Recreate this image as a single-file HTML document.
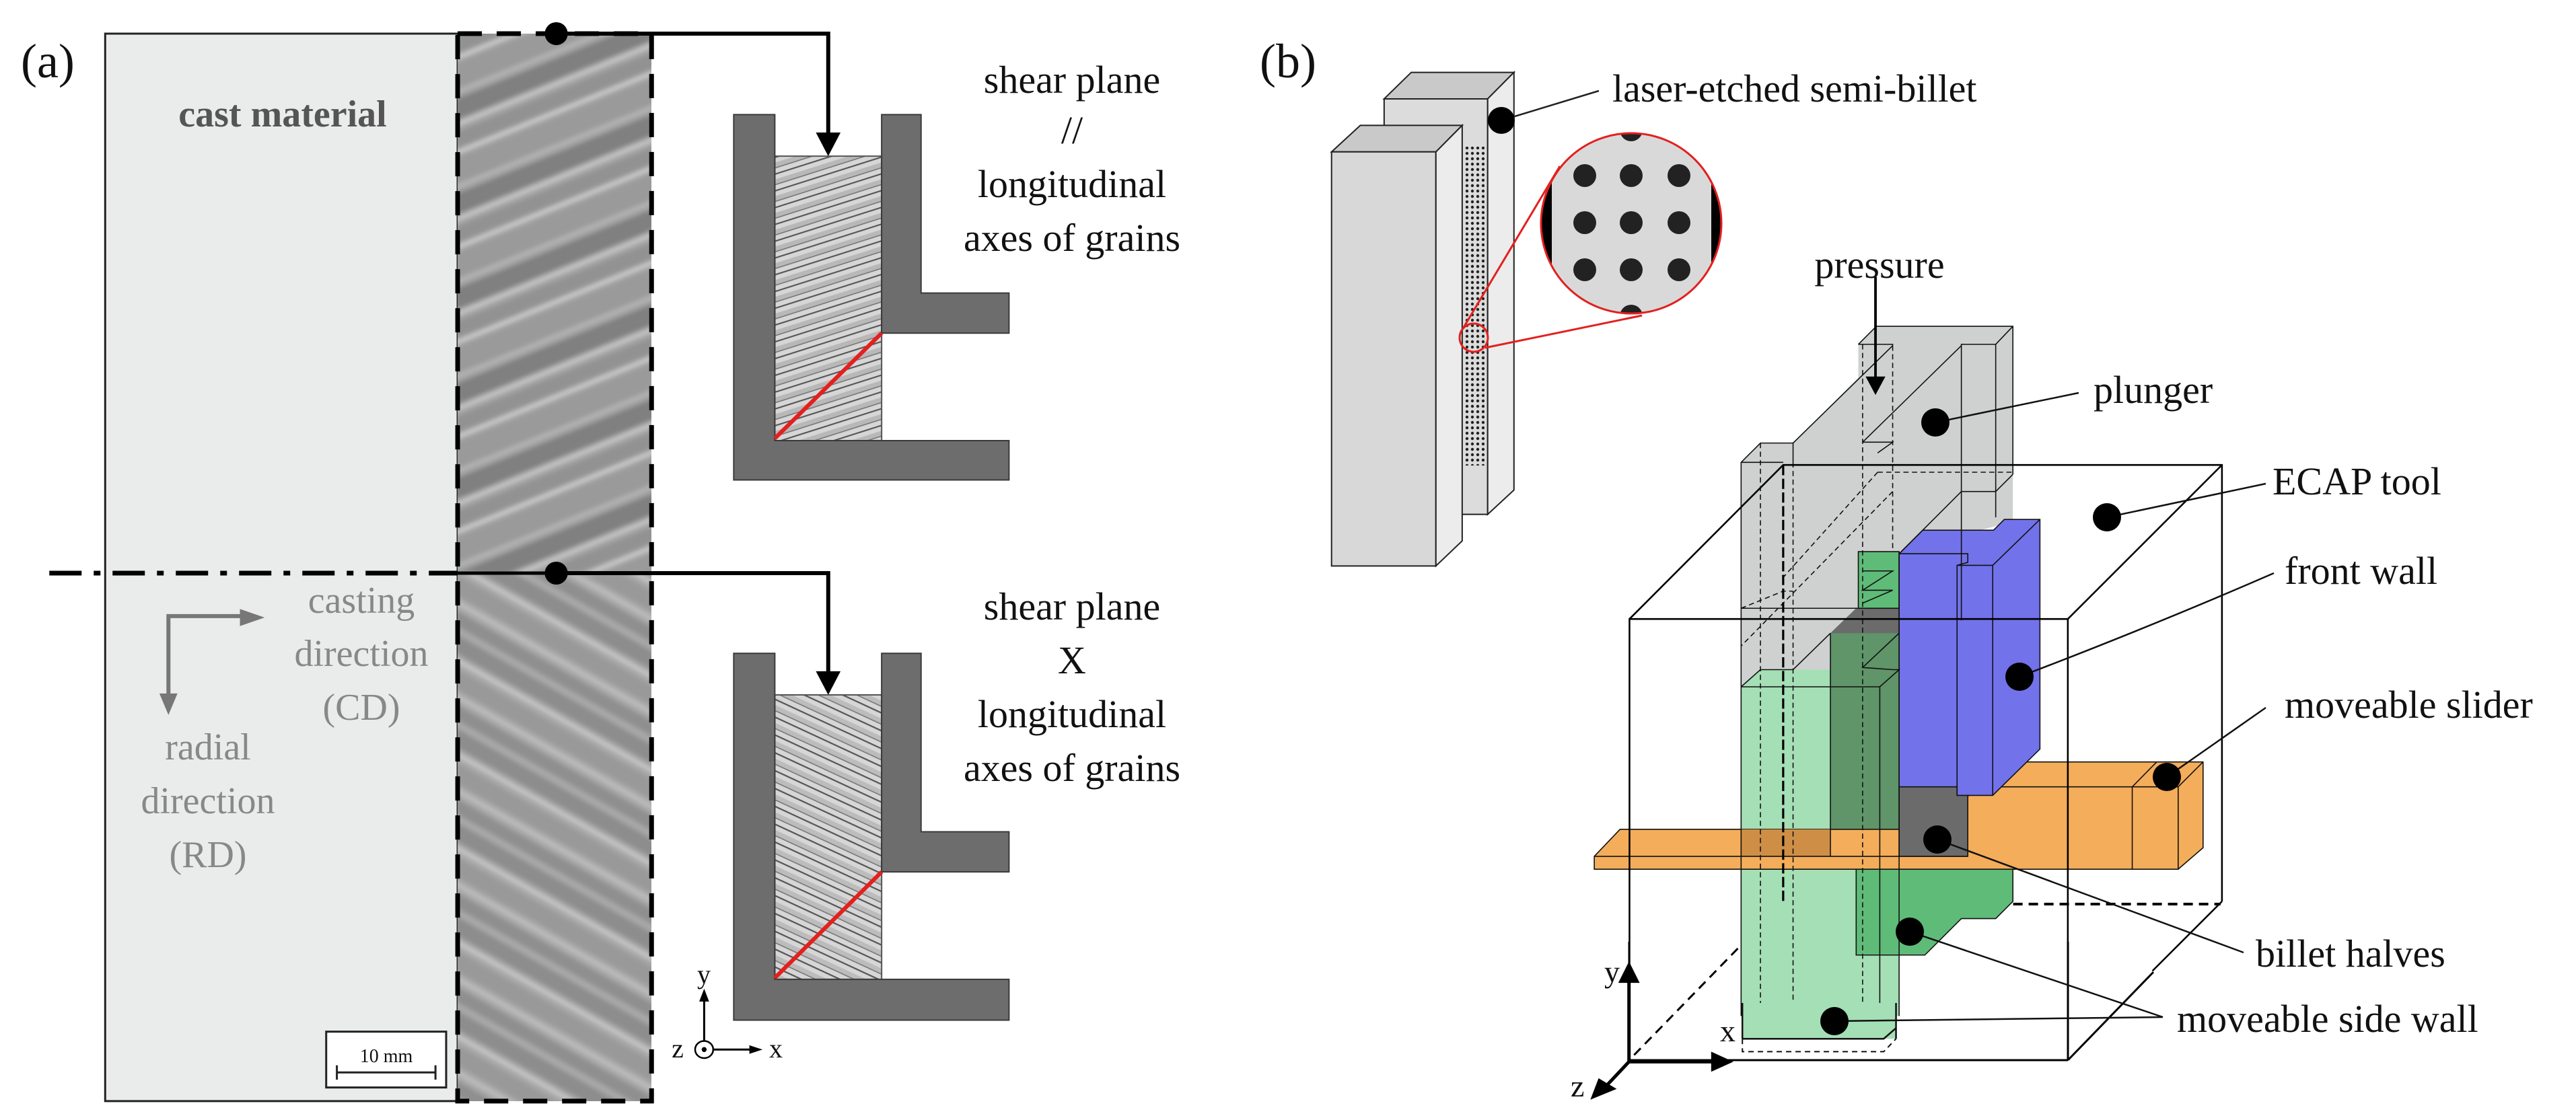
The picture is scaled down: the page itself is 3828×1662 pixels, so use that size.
<!DOCTYPE html>
<html><head><meta charset="utf-8"><style>
html,body{margin:0;padding:0;background:#fff}
svg{display:block}
svg text{font-family:"Liberation Serif","DejaVu Serif",serif}
</style></head><body>
<svg width="3828" height="1662" viewBox="0 0 3828 1662" xmlns="http://www.w3.org/2000/svg" font-family="Liberation Serif, DejaVu Serif, serif">
<defs>
<filter id="bl"><feGaussianBlur stdDeviation="3"/></filter>
<pattern id="stTop" width="400" height="120" patternUnits="userSpaceOnUse" patternTransform="rotate(-25)">
<rect width="400" height="120" fill="#a3a3a3"/>
<rect y="0" width="400" height="26" fill="#808080"/>
<rect y="30" width="400" height="5" fill="#c9c9c9"/>
<rect y="42" width="400" height="20" fill="#929292"/>
<rect y="66" width="400" height="4" fill="#d5d5d5"/>
<rect y="76" width="400" height="30" fill="#9a9a9a"/>
<rect y="110" width="400" height="3" fill="#bdbdbd"/>
</pattern>
<pattern id="stBot" width="400" height="110" patternUnits="userSpaceOnUse" patternTransform="rotate(33)">
<rect width="400" height="110" fill="#a8a8a8"/>
<rect y="0" width="400" height="22" fill="#8d8d8d"/>
<rect y="28" width="400" height="4" fill="#cfcfcf"/>
<rect y="40" width="400" height="24" fill="#999"/>
<rect y="70" width="400" height="5" fill="#c0c0c0"/>
<rect y="82" width="400" height="18" fill="#8f8f8f"/>
</pattern>
<pattern id="gr1" width="60" height="22" patternUnits="userSpaceOnUse" patternTransform="rotate(-20)">
<rect width="60" height="22" fill="#d6d6d6"/>
<rect y="8" width="60" height="7" fill="#b8b8b8"/>
<line x1="0" y1="1" x2="60" y2="1" stroke="#555" stroke-width="2"/>
<line x1="0" y1="15" x2="60" y2="15" stroke="#777" stroke-width="1.5"/>
</pattern>
<pattern id="gr2" width="60" height="22" patternUnits="userSpaceOnUse" patternTransform="rotate(28)">
<rect width="60" height="22" fill="#d6d6d6"/>
<rect y="8" width="60" height="7" fill="#bcbcbc"/>
<line x1="0" y1="1" x2="60" y2="1" stroke="#555" stroke-width="2"/>
<line x1="0" y1="15" x2="60" y2="15" stroke="#777" stroke-width="1.5"/>
</pattern>
<pattern id="dots" width="8" height="8" patternUnits="userSpaceOnUse"><circle cx="4" cy="4" r="2.2" fill="#222"/></pattern>
<clipPath id="stripc"><rect x="680" y="50" width="288" height="1587"/></clipPath>
</defs>

<!-- ===== LEFT PANEL (zoom1 coords) ===== -->
<g transform="scale(1.221,1.065)">
<rect x="128" y="47" width="429" height="1490" fill="#eaeceb" stroke="#222" stroke-width="3" vector-effect="non-scaling-stroke"/>
</g>
<g clip-path="url(#stripc)">
<g transform="scale(1.221,1.065)" filter="url(#bl)">
<rect x="540" y="30" width="270" height="770" fill="url(#stTop)"/>
<rect x="540" y="800" width="270" height="760" fill="url(#stBot)"/>
</g>
</g>
<g transform="scale(1.221,1.065)">
<rect x="557" y="47" width="236" height="1490" fill="none" stroke="#000" stroke-width="7" stroke-dasharray="36 22" vector-effect="non-scaling-stroke"/>
<line x1="60" y1="800" x2="557" y2="800" stroke="#000" stroke-width="7" stroke-dasharray="48 18 10 18" vector-effect="non-scaling-stroke"/>
<line x1="557" y1="800" x2="677" y2="800" stroke="#000" stroke-width="5" vector-effect="non-scaling-stroke"/>
<path d="M677 47 H1008 V190" fill="none" stroke="#000" stroke-width="6" vector-effect="non-scaling-stroke"/>
<polygon points="993,185 1023,185 1008,218" fill="#000"/>
<path d="M677 800 H1008 V940" fill="none" stroke="#000" stroke-width="6" vector-effect="non-scaling-stroke"/>
<polygon points="993,937 1023,937 1008,970" fill="#000"/>
<ellipse cx="677" cy="47" rx="14" ry="16" fill="#000"/>
<ellipse cx="677" cy="800" rx="14" ry="16" fill="#000"/>
<rect x="943" y="218" width="130" height="397" fill="url(#gr1)" stroke="#555" stroke-width="2" vector-effect="non-scaling-stroke"/>
<path d="M893 160 H943 V615 H1228 V670 H893 Z" fill="#6d6d6d" stroke="#3a3a3a" stroke-width="2" vector-effect="non-scaling-stroke"/>
<path d="M1073 160 H1121 V409 H1228 V465 H1073 Z" fill="#6d6d6d" stroke="#3a3a3a" stroke-width="2" vector-effect="non-scaling-stroke"/>
<line x1="943" y1="612" x2="1073" y2="465" stroke="#e3201f" stroke-width="6" vector-effect="non-scaling-stroke"/>
<rect x="943" y="970" width="130" height="397" fill="url(#gr2)" stroke="#555" stroke-width="2" vector-effect="non-scaling-stroke"/>
<path d="M893 912 H943 V1367 H1228 V1424 H893 Z" fill="#6d6d6d" stroke="#3a3a3a" stroke-width="2" vector-effect="non-scaling-stroke"/>
<path d="M1073 912 H1121 V1161 H1228 V1217 H1073 Z" fill="#6d6d6d" stroke="#3a3a3a" stroke-width="2" vector-effect="non-scaling-stroke"/>
<line x1="943" y1="1365" x2="1073" y2="1217" stroke="#e3201f" stroke-width="6" vector-effect="non-scaling-stroke"/>
<path d="M205 975 V860 H295" fill="none" stroke="#777" stroke-width="6" vector-effect="non-scaling-stroke"/>
<polygon points="292,850 322,862 292,874" fill="#777"/>
<polygon points="194,968 216,968 205,998" fill="#777"/>
<rect x="397" y="1440" width="146" height="78" fill="#fff" stroke="#222" stroke-width="3" vector-effect="non-scaling-stroke"/>
<line x1="410" y1="1497" x2="530" y2="1497" stroke="#222" stroke-width="3" vector-effect="non-scaling-stroke"/>
<line x1="410" y1="1487" x2="410" y2="1507" stroke="#222" stroke-width="3" vector-effect="non-scaling-stroke"/>
<line x1="530" y1="1487" x2="530" y2="1507" stroke="#222" stroke-width="3" vector-effect="non-scaling-stroke"/>
<line x1="857" y1="1455" x2="857" y2="1395" stroke="#000" stroke-width="3" vector-effect="non-scaling-stroke"/>
<polygon points="851,1398 863,1398 857,1380" fill="#000"/>
<line x1="868" y1="1465" x2="915" y2="1465" stroke="#000" stroke-width="3" vector-effect="non-scaling-stroke"/>
<polygon points="912,1459 912,1471 928,1465" fill="#000"/>
<ellipse cx="857" cy="1465" rx="11" ry="12" fill="#fff" stroke="#000" stroke-width="2.5" vector-effect="non-scaling-stroke"/>
<ellipse cx="857" cy="1465" rx="3" ry="3.5" fill="#000"/>
</g>
<text x="31" y="115" font-size="72" fill="#111">(a)</text>
<text x="420" y="188" font-size="56" font-weight="bold" text-anchor="middle" fill="#555">cast material</text>
<g font-size="58" text-anchor="middle" fill="#111">
<text x="1593" y="138">shear plane</text>
<text x="1593" y="213">//</text>
<text x="1593" y="293">longitudinal</text>
<text x="1593" y="373">axes of grains</text>
<text x="1593" y="921">shear plane</text>
<text x="1593" y="1001">X</text>
<text x="1593" y="1081">longitudinal</text>
<text x="1593" y="1161">axes of grains</text>
</g>
<g font-size="56" text-anchor="middle" fill="#888">
<text x="537" y="911">casting</text>
<text x="537" y="990">direction</text>
<text x="537" y="1070">(CD)</text>
<text x="309" y="1129">radial</text>
<text x="309" y="1209">direction</text>
<text x="309" y="1289">(RD)</text>
</g>
<text x="574" y="1579" font-size="28" text-anchor="middle" fill="#111">10 mm</text>
<text x="1046" y="1462" font-size="40" text-anchor="middle" fill="#111">y</text>
<text x="1007" y="1572" font-size="40" text-anchor="middle" fill="#111">z</text>
<text x="1153" y="1572" font-size="40" text-anchor="middle" fill="#111">x</text>

<!-- ===== RIGHT PANEL (zoom2 coords) ===== -->
<g transform="translate(1914,0) scale(1.221,1.065)" stroke="#222" stroke-width="2">
<polygon points="117,138 150,101 275,101 243,138" fill="#c9c9c9" vector-effect="non-scaling-stroke"/>
<rect x="117" y="138" width="126" height="580" fill="#dcdcdc" vector-effect="non-scaling-stroke"/>
<polygon points="243,138 275,101 275,684 243,718" fill="#ececec" vector-effect="non-scaling-stroke"/>
<polygon points="53,212 88,175 212,175 180,212" fill="#c9c9c9" vector-effect="non-scaling-stroke"/>
<rect x="53" y="212" width="127" height="578" fill="#d8d8d8" vector-effect="non-scaling-stroke"/>
<polygon points="180,212 212,175 212,755 180,790" fill="#ececec" vector-effect="non-scaling-stroke"/>
<path d="M600 1262 H1135" fill="none" stroke="#000" stroke-width="4" stroke-dasharray="14 9" vector-effect="non-scaling-stroke"/>
<path d="M600 1262 L415 1480" fill="none" stroke="#000" stroke-width="3" stroke-dasharray="14 9" vector-effect="non-scaling-stroke"/>
</g>
<rect x="2176" y="218" width="30" height="474" fill="url(#dots)"/>
<line x1="2173" y1="490" x2="2318" y2="247" stroke="#e3201f" stroke-width="3"/>
<line x1="2207" y1="517" x2="2440" y2="469" stroke="#e3201f" stroke-width="3"/>
<circle cx="2190" cy="502" r="21" fill="none" stroke="#e3201f" stroke-width="3"/>
<clipPath id="mc"><circle cx="2424" cy="332" r="134"/></clipPath>
<g clip-path="url(#mc)">
<rect x="2280" y="190" width="290" height="290" fill="#d9d9d9"/>
<rect x="2290" y="190" width="16" height="290" fill="#000"/>
<rect x="2543" y="190" width="16" height="290" fill="#000"/>
<g fill="#222">
<circle cx="2355" cy="261" r="17"/><circle cx="2424" cy="261" r="17"/><circle cx="2495" cy="261" r="17"/>
<circle cx="2355" cy="331" r="17"/><circle cx="2424" cy="331" r="17"/><circle cx="2495" cy="331" r="17"/>
<circle cx="2355" cy="401" r="17"/><circle cx="2424" cy="401" r="17"/><circle cx="2495" cy="401" r="17"/>
<circle cx="2424" cy="193" r="17"/><circle cx="2424" cy="470" r="17"/>
</g>
</g>
<circle cx="2424" cy="332" r="134" fill="none" stroke="#e3201f" stroke-width="3"/>
<line x1="2231" y1="179" x2="2376" y2="135" stroke="#222" stroke-width="2.5"/>
<circle cx="2231" cy="179" r="20" fill="#000"/>

<!-- ===== ECAP (zoom5 coords) ===== -->
<g transform="translate(2350,450) scale(0.638)" stroke="#111" stroke-width="2.5">
<polygon points="372,372 417,327 493,327 645,175 645,97 687,55 1005,55 1005,510 740,580 740,855 725,855 695,895 372,895" fill="#cfd0d0" stroke="none"/>
<polygon points="372,895 417,855 740,855 740,1662 372,1662" fill="#a5dfb5" stroke="none"/>
<polygon points="580,770 640,712 740,712 740,1290 580,1290" fill="#5f9569" stroke="none"/>
<polygon points="580,770 640,712 740,712 740,770" fill="#6b6b6b" stroke="none"/>
<rect x="645" y="580" width="95" height="132" fill="#5fbb78" stroke="#111"/>
<polygon points="640,1320 1005,1320 1005,1395 965,1435 885,1435 800,1520 640,1520" fill="#5fbb78" stroke="#111"/>
<polygon points="30,1290 90,1227 900,1227 900,1150 990,1070 1448,1070 1448,1270 1390,1320 30,1320" fill="#f4ad5a" stroke="#111"/>
<rect x="372" y="1227" width="208" height="63" fill="#cf8e46" stroke="none"/>
<line x1="30" y1="1290" x2="900" y2="1290"/>
<rect x="740" y="1128" width="160" height="162" fill="#6b6b6b"/>
<line x1="1283" y1="1128" x2="1283" y2="1320"/><line x1="1390" y1="1128" x2="1390" y2="1320"/>
<line x1="900" y1="1128" x2="1390" y2="1128"/><line x1="1390" y1="1128" x2="1448" y2="1070"/>
<line x1="1283" y1="1128" x2="1340" y2="1070"/>
<polygon points="740,585 795,530 960,530 985,505 1068,505 1068,1040 958,1148 875,1148 875,1128 740,1128" fill="#7272ea"/>
<polyline points="740,585 900,585 900,605 875,612 875,1148" fill="none"/>
<polyline points="875,612 958,612 1068,505" fill="none"/>
<line x1="958" y1="612" x2="958" y2="1148"/>
<g fill="none">
<polyline points="645,97 687,55 1005,55 1005,400"/>
<polyline points="645,97 725,97 725,100"/>
<polyline points="885,740 885,97 965,97 1005,55"/>
<line x1="965" y1="97" x2="965" y2="500"/>
<line x1="885" y1="100" x2="655" y2="325"/>
<polyline points="655,325 725,325 690,350"/>
<line x1="725" y1="100" x2="493" y2="327"/>
<polyline points="372,1662 372,372 417,327 493,327 493,372"/>
<line x1="372" y1="372" x2="470" y2="372"/>
<polyline points="885,440 965,440 1005,400"/>
<line x1="885" y1="440" x2="740" y2="585"/>
<line x1="372" y1="712" x2="740" y2="712"/>
<polyline points="372,895 417,855 493,855 580,770"/>
<polyline points="372,895 695,895 740,855 725,855"/>
<line x1="695" y1="895" x2="695" y2="1662"/>
<line x1="580" y1="770" x2="580" y2="1290"/>
<line x1="740" y1="580" x2="740" y2="1662"/>
<polyline points="655,850 740,770 655,850 725,855"/>
<polyline points="655,625 725,625 655,670 725,670 655,700"/>
</g>
<g fill="none" stroke-dasharray="12 8" stroke-width="2.5">
<line x1="417" y1="327" x2="417" y2="1662"/>
<line x1="493" y1="372" x2="493" y2="1662"/>
<line x1="655" y1="97" x2="655" y2="1662"/>
<line x1="725" y1="100" x2="725" y2="580"/>
<polyline points="372,712 470,672 493,672"/>
<line x1="690" y1="395" x2="1005" y2="395"/>
<line x1="725" y1="440" x2="372" y2="800"/>
<line x1="690" y1="395" x2="470" y2="640"/>
</g>
<g fill="none" stroke="#000" stroke-width="4">
<polyline points="112,1662 112,737 1133,737 1133,1662"/>
<polyline points="112,737 470,378 1492,378 1492,1395"/>
<line x1="1133" y1="737" x2="1492" y2="378"/>
<line x1="1492" y1="1395" x2="1330" y2="1557"/>
</g>
<line x1="470" y1="378" x2="470" y2="1395" stroke="#000" stroke-width="5" stroke-dasharray="24 8"/>
<line x1="685" y1="-60" x2="685" y2="180" stroke="#000" stroke-width="6"/>
<polygon points="662,172 708,172 685,215" fill="#000" stroke="none"/>
</g>
<g fill="none" stroke="#000" stroke-width="3">
<line x1="2421" y1="1400" x2="2421" y2="1576"/>
<line x1="3073" y1="1400" x2="3073" y2="1576"/>
<line x1="2421" y1="1576" x2="3073" y2="1576"/>
<line x1="3073" y1="1576" x2="3200" y2="1445"/>
</g>
<g transform="translate(1914,0) scale(1.221,1.065)">
<rect x="553" y="1400" width="187" height="50" fill="#a5dfb5"/>
<line x1="553" y1="1400" x2="553" y2="1450" stroke="#111" stroke-width="2.5" vector-effect="non-scaling-stroke"/>
<line x1="740" y1="1400" x2="740" y2="1450" stroke="#111" stroke-width="2.5" vector-effect="non-scaling-stroke"/>
<polyline points="553,1450 725,1450 740,1435" fill="none" stroke="#111" stroke-width="2.5" vector-effect="non-scaling-stroke"/>
<polyline points="553,1450 553,1468 725,1468 740,1450" fill="none" stroke="#111" stroke-width="2" stroke-dasharray="8 6" vector-effect="non-scaling-stroke"/>
<line x1="415" y1="1482" x2="415" y2="1370" stroke="#000" stroke-width="5" vector-effect="non-scaling-stroke"/>
<polygon points="402,1372 428,1372 415,1342" fill="#000"/>
<line x1="415" y1="1482" x2="520" y2="1482" stroke="#000" stroke-width="5" vector-effect="non-scaling-stroke"/>
<polygon points="515,1468 515,1496 542,1482" fill="#000"/>
<line x1="415" y1="1482" x2="388" y2="1515" stroke="#000" stroke-width="5" vector-effect="non-scaling-stroke"/>
<polygon points="368,1535 378,1505 400,1520" fill="#000"/>
</g>
<g stroke="#111" stroke-width="2.5" fill="none">
<line x1="2876" y1="628" x2="3089" y2="584"/>
<line x1="3131" y1="769" x2="3367" y2="719"/>
<path d="M3001 1006 Q3200 930 3379 852"/>
<line x1="3220" y1="1155" x2="3367" y2="1052"/>
<line x1="2879" y1="1248" x2="3334" y2="1416"/>
<line x1="2838" y1="1385" x2="3214" y2="1512"/>
<line x1="2726" y1="1518" x2="3214" y2="1512"/>
</g>
<g fill="#000">
<circle cx="2876" cy="628" r="21"/><circle cx="3131" cy="769" r="21"/><circle cx="3001" cy="1006" r="21"/>
<circle cx="3220" cy="1155" r="21"/><circle cx="2879" cy="1248" r="21"/><circle cx="2838" cy="1385" r="21"/><circle cx="2726" cy="1518" r="21"/>
</g>
<text x="1872" y="115" font-size="72" fill="#111">(b)</text>
<g font-size="58" fill="#111">
<text x="2396" y="151">laser-etched semi-billet</text>
<text x="2793" y="413" text-anchor="middle">pressure</text>
<text x="3111" y="599">plunger</text>
<text x="3377" y="735">ECAP tool</text>
<text x="3395" y="868">front wall</text>
<text x="3395" y="1067">moveable slider</text>
<text x="3352" y="1437">billet halves</text>
<text x="3235" y="1534">moveable side wall</text>
<text x="2384" y="1460" font-size="46">y</text>
<text x="2556" y="1548" font-size="46">x</text>
<text x="2334" y="1630" font-size="46">z</text>
</g>
</svg>
</body></html>
